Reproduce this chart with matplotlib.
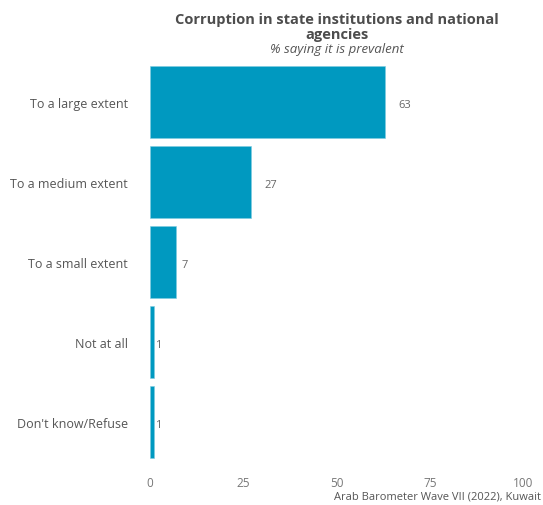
import numpy as np
import matplotlib
matplotlib.use("Agg")
import matplotlib.pyplot as plt

plt.rcParams['font.family'] = ['Open Sans', 'DejaVu Sans']

# data
categories = ["To a large extent", "To a medium extent", "To a small extent",
              "Not at all", "Don't know/Refuse"]
values = [63, 27, 7, 1, 1]
x_ticks = [0, 25, 50, 75, 100]

title_lines = ["Corruption in state institutions and national", "agencies"]
subtitle = "% saying it is prevalent"
caption = "Arab Barometer Wave VII (2022), Kuwait"

bar_col = "#0099c0"
txt_col = "#555555"

fig = plt.figure(figsize=(5.43, 5.06), dpi=100)
ax = fig.add_axes([150 / 543, 1 - 471 / 506, 373 / 543, 416 / 506])

ypos = np.arange(len(categories))
ax.barh(ypos, values, height=0.89, color=bar_col, edgecolor="#7fcbe0", linewidth=0.4)

# value labels, nudged right of the bar end
for y, v in zip(ypos, values):
    off = 5.4 if v >= 10 else (2.4 if v >= 5 else 1.1)
    ax.text(v + off, y + 0.03, str(v), ha="center", va="center", fontsize=8, color="#666666")

ax.set_xlim(0, 100)
ax.set_ylim(len(categories) - 0.4, -0.6)
ax.set_yticks(ypos)
ax.set_yticklabels(categories, fontsize=9, color=txt_col)
ax.set_xticks(x_ticks)
ax.set_xticklabels([str(t) for t in x_ticks], fontsize=8.5, color="#777777")
ax.tick_params(axis="y", length=0, pad=16)
ax.tick_params(axis="x", length=0, pad=4)
for s in ax.spines.values():
    s.set_visible(False)

cx = 336.5 / 543
fig.text(cx, 1 - 20 / 506, title_lines[0], ha="center", va="center",
         fontsize=10.5, fontweight="bold", color="#4d4d4d")
fig.text(cx, 1 - 35 / 506, title_lines[1], ha="center", va="center",
         fontsize=10.5, fontweight="bold", color="#4d4d4d")
fig.text(cx, 1 - 49 / 506, subtitle, ha="center", va="center",
         fontsize=9.5, style="italic", color="#555555")
fig.text(1 - 0.003, 1 - 497 / 506, caption, ha="right", va="center",
         fontsize=8, color="#555555")

fig.savefig("out.png", dpi=100)
